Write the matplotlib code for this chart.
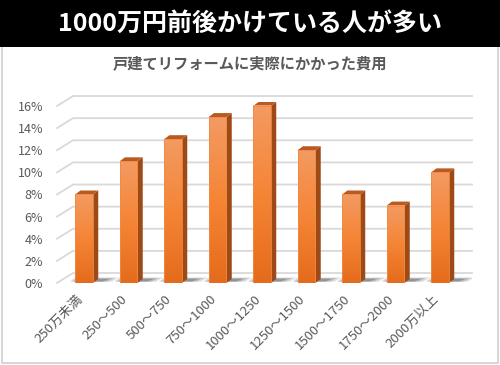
import numpy as np
import matplotlib.pyplot as plt
from matplotlib.colors import LinearSegmentedColormap
from matplotlib.patches import Polygon, Rectangle
from matplotlib.transforms import ScaledTranslation

plt.rcParams['font.family'] = ['Noto Sans CJK JP', 'DejaVu Sans']

headline = "1000万円前後かけている人が多い"
subtitle = "戸建てリフォームに実際にかかった費用"
categories = ["250万未満", "250～500", "500～750", "750～1000", "1000～1250",
              "1250～1500", "1500～1750", "1750～2000", "2000万以上"]
shares = [8, 11, 13, 15, 16, 12, 8, 7, 10]  # %
yticks = [0, 2, 4, 6, 8, 10, 12, 14, 16]

fig = plt.figure(figsize=(5, 3.65), dpi=100)
fig.patch.set_facecolor("white")

# frame + black banner (behind the axes)
fig.patches.append(Rectangle((0.003, 0.006), 0.992, 0.99, transform=fig.transFigure,
                             facecolor="none", edgecolor="#D0D0D0", lw=1.2, zorder=-2))
fig.patches.append(Rectangle((0, 0.871), 1, 0.129, transform=fig.transFigure,
                             facecolor="black", edgecolor="none", zorder=-1))
fig.text(0.5, 0.935, headline, color="white", fontsize=18, fontweight="bold",
         ha="center", va="center")
fig.text(0.5, 0.826, subtitle, color="#595959", fontsize=11, fontweight="bold",
         ha="center", va="center")

ax = fig.add_axes([0.114, 0.2247, 0.83, 0.5304])
ax.set_facecolor("none")
for s in ax.spines.values():
    s.set_visible(False)

dx, dy = 0.36, 0.9        # back wall offset
half = 0.2                # half bar width
bx, by = 0.12, 0.36       # bar depth offset
x0, x1 = -0.607, 8.719

# gridlines with a slanted lead-in like the 3D wall
for t in yticks:
    ax.plot([x0, x0 + dx, x1], [t, t + dy, t + dy], color="#D9D9D9", lw=1.3,
            clip_on=False, zorder=1)

cmap = LinearSegmentedColormap.from_list("bar", ["#E56B1C", "#F58535", "#F39A62"])
grad = np.linspace(0, 1, 100).reshape(-1, 1)

for i, v in enumerate(shares):
    # soft floor shadow
    for k, a in enumerate([0.18, 0.22, 0.3]):
        ext = 0.42 - 0.1 * k
        ax.add_patch(Polygon([(i - half - 0.12 + 0.05 * k, 0.12), (i + half + ext, 0.12),
                              (i + half + ext + 0.15, 0.5 - 0.06 * k),
                              (i - half + 0.05 * k, 0.5 - 0.06 * k)],
                             closed=True, facecolor="#404040", alpha=a,
                             edgecolor="none", zorder=2))
    # side face
    ax.add_patch(Polygon([(i + half, 0), (i + half + bx, by), (i + half + bx, v + by),
                          (i + half, v)], closed=True, facecolor="#9E4A17",
                         edgecolor="none", zorder=3))
    # top face
    ax.add_patch(Polygon([(i - half, v), (i + half, v), (i + half + bx, v + by),
                          (i - half + bx, v + by)], closed=True, facecolor="#B85A22",
                         edgecolor="none", zorder=3))
    # front face with gradient
    ax.imshow(grad, cmap=cmap, origin="lower", aspect="auto",
              extent=(i - half, i + half, 0, v), zorder=4)
    ax.add_patch(Rectangle((i - half, 0), 2 * half, v, facecolor="none",
                           edgecolor="#F08A45", lw=0.6, zorder=5))

ax.set_xlim(x0, x1)
ax.set_ylim(0, 17.5)

ax.set_yticks(yticks)
ax.set_yticklabels([f"{t}%" for t in yticks], color="#595959", fontsize=9)
ax.tick_params(axis="y", length=0, pad=10)

ax.set_xticks(range(len(categories)))
ax.set_xticklabels(categories, rotation=45, ha="right", rotation_mode="anchor",
                   color="#595959", fontsize=9.5)
ax.tick_params(axis="x", length=0, pad=7)
shift = ScaledTranslation(-8 / 100, 0, fig.dpi_scale_trans)
for lbl in ax.get_xticklabels():
    lbl.set_transform(lbl.get_transform() + shift)

fig.savefig("out.png", dpi=100)
